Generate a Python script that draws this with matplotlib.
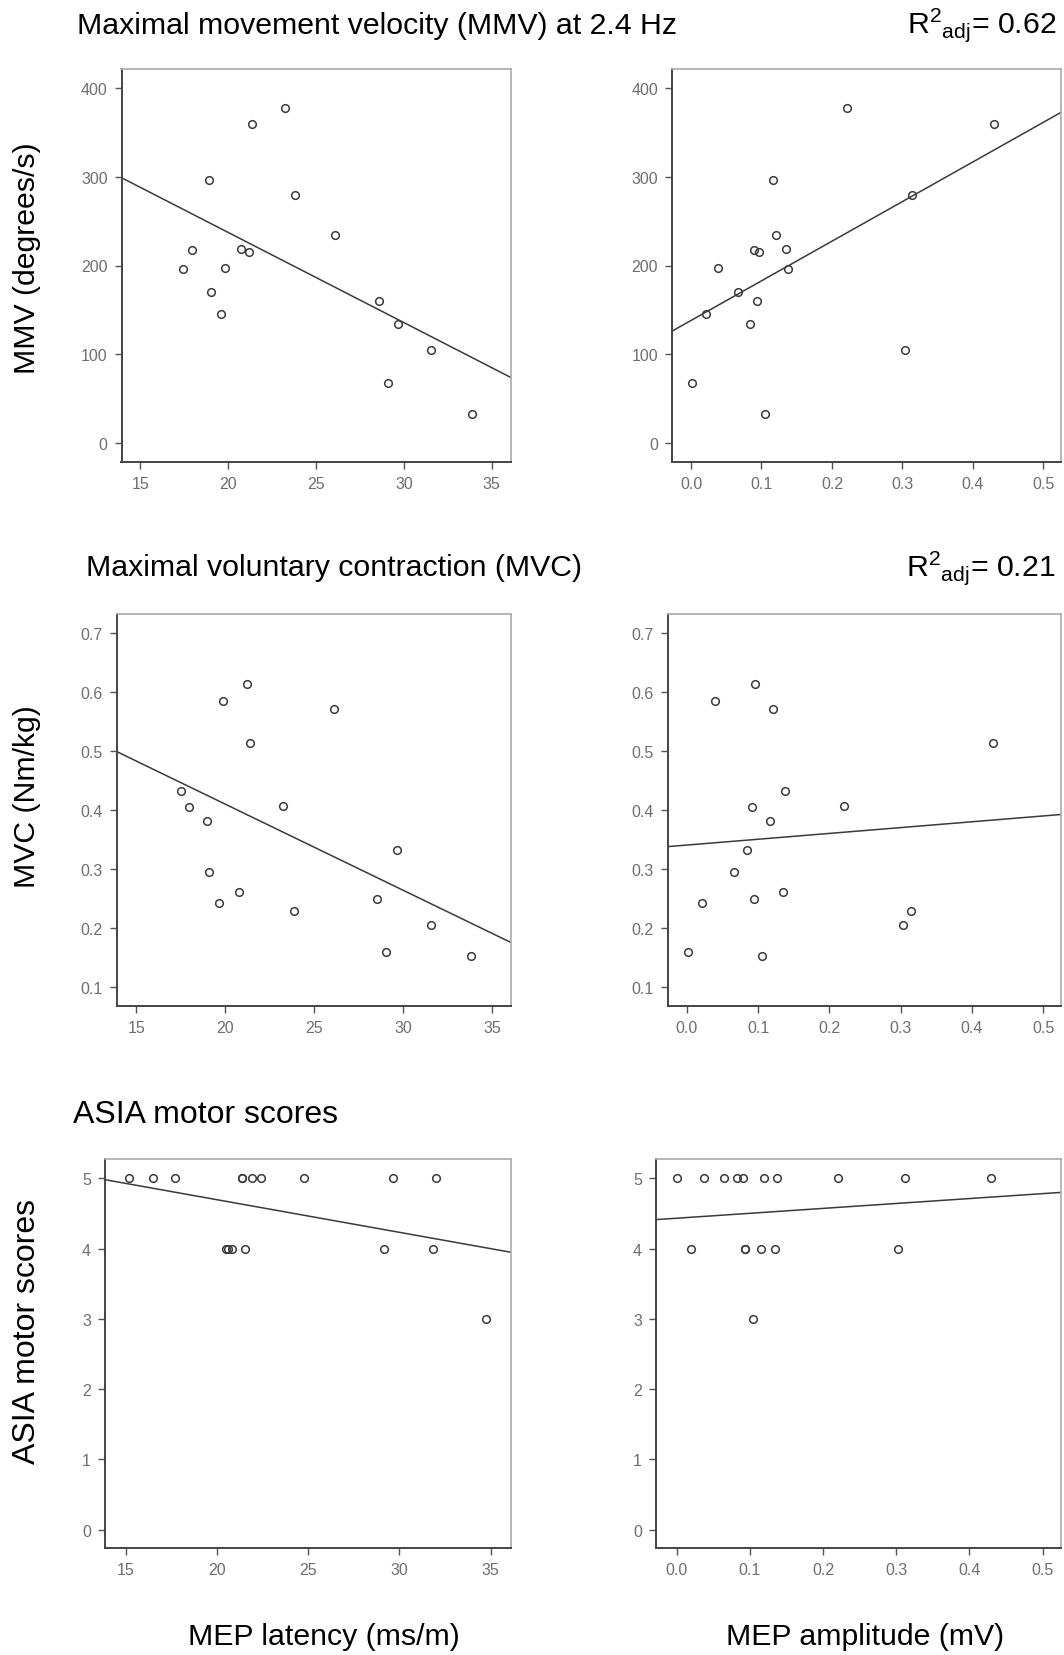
import numpy as np
import matplotlib
matplotlib.use("Agg")
import matplotlib.pyplot as plt

plt.rcParams['font.family'] = ['Liberation Sans', 'DejaVu Sans']
plt.rcParams['mathtext.fontset'] = 'custom'
plt.rcParams['mathtext.rm'] = 'Liberation Sans'
plt.rcParams['mathtext.it'] = 'Liberation Sans'

# MEP latency (ms/m) / MEP amplitude (mV) vs outcome
lat_mmv = [17.42, 17.95, 18.91, 19.03, 19.57, 19.83, 20.74, 21.18, 21.36, 23.22,
           23.82, 26.10, 28.59, 29.67, 29.07, 31.57, 33.86]
mmv_lat = [196, 217, 297, 170, 145, 197, 219, 215, 360, 378,
           280, 235, 160, 134, 67, 105, 32]
amp_mmv = [0.002, 0.021, 0.038, 0.066, 0.084, 0.090, 0.096, 0.094, 0.105, 0.116,
           0.120, 0.135, 0.138, 0.221, 0.303, 0.314, 0.430]
mmv_amp = [67, 145, 197, 170, 134, 217, 215, 160, 32, 297,
           235, 219, 196, 378, 105, 280, 360]

lat_mvc = [17.50, 17.99, 18.96, 19.08, 19.65, 19.86, 20.79, 21.21, 21.40, 23.23,
           23.86, 26.14, 28.56, 29.06, 29.67, 31.57, 33.82]
mvc_lat = [0.432, 0.405, 0.381, 0.296, 0.242, 0.585, 0.262, 0.615, 0.514, 0.407,
           0.229, 0.571, 0.249, 0.160, 0.332, 0.206, 0.152]
amp_mvc = [0.002, 0.021, 0.039, 0.066, 0.084, 0.092, 0.094, 0.096, 0.105, 0.117,
           0.121, 0.135, 0.138, 0.220, 0.303, 0.314, 0.429]
mvc_amp = [0.160, 0.242, 0.585, 0.296, 0.332, 0.405, 0.249, 0.615, 0.152, 0.381,
           0.571, 0.262, 0.432, 0.407, 0.206, 0.229, 0.514]

lat_asia = [15.19, 16.49, 17.70, 21.36, 21.36, 21.91, 22.38, 24.76, 29.67, 32.01,
            20.47, 20.61, 20.80, 21.52, 29.15, 31.84, 34.76]
asia_lat = [5, 5, 5, 5, 5, 5, 5, 5, 5, 5, 4, 4, 4, 4, 4, 4, 3]
amp_asia = [0.001, 0.038, 0.065, 0.082, 0.091, 0.120, 0.137, 0.220, 0.312, 0.429,
            0.020, 0.094, 0.094, 0.116, 0.134, 0.302, 0.104]
asia_amp = [5, 5, 5, 5, 5, 5, 5, 5, 5, 5, 4, 4, 4, 4, 4, 4, 3]

# fitted lines (intercept, slope) as drawn in the figure
fit_mmv = [(440.9, -10.18), (137.9, 447.8)]
fit_mvc = [(0.7027, -0.01461), (0.341, 0.0988)]
fit_asia = [(5.623, -0.04638), (4.432, 0.7005)]

lat_lim = (13.92, 36.1)
amp_lim = (-0.027, 0.525)
lat_ticks = [15, 20, 25, 30, 35]
amp_ticks = [0.0, 0.1, 0.2, 0.3, 0.4, 0.5]

W, H = 1064, 1656
fig = plt.figure(figsize=(W / 100, H / 100), dpi=100)


def box(l, r, t, b):
    return [l / W, 1 - b / H, (r - l) / W, (b - t) / H]


def panel(rect, x, y, fit, xlim, ylim, xticks, xlabels, yticks, ylabels):
    ax = fig.add_axes(rect)
    ax.plot(x, y, 'o', ms=5.5, mfc='none', mec='#3a3a3a', mew=1.1)
    xx = np.array(xlim)
    ax.plot(xx, fit[0] + fit[1] * xx, color='#3a3a3a', lw=1.1)
    ax.set_xlim(xlim)
    ax.set_ylim(ylim)
    ax.set_xticks(xticks)
    ax.set_xticklabels(xlabels)
    ax.set_yticks(yticks)
    ax.set_yticklabels(ylabels)
    ax.tick_params(direction='out', length=5, width=1, color='#555555',
                   labelcolor='#6e6e6e', labelsize=11.5, pad=5)
    for s in ['left', 'bottom']:
        ax.spines[s].set_color('#444444')
        ax.spines[s].set_linewidth(1.4)
    for s in ['top', 'right']:
        ax.spines[s].set_color('#aaaaaa')
        ax.spines[s].set_linewidth(1.2)
    return ax


mmv_ticks = [0, 100, 200, 300, 400]
mvc_ticks = [0.1, 0.2, 0.3, 0.4, 0.5, 0.6, 0.7]
asia_ticks = [0, 1, 2, 3, 4, 5]
lat_lab = [str(t) for t in lat_ticks]
amp_lab = ['%.1f' % t for t in amp_ticks]

panel(box(121.5, 511, 70, 463), lat_mmv, mmv_lat, fit_mmv[0], lat_lim, (-22, 422),
      lat_ticks, lat_lab, mmv_ticks, [str(t) for t in mmv_ticks])
panel(box(672, 1061, 70, 463), amp_mmv, mmv_amp, fit_mmv[1], amp_lim, (-22, 422),
      amp_ticks, amp_lab, mmv_ticks, [str(t) for t in mmv_ticks])
panel(box(116.5, 511, 615, 1007), lat_mvc, mvc_lat, fit_mvc[0], (13.89, 36.07), (0.068, 0.733),
      lat_ticks, lat_lab, mvc_ticks, ['%.1f' % t for t in mvc_ticks])
panel(box(667.5, 1061, 615, 1007), amp_mvc, mvc_amp, fit_mvc[1], amp_lim, (0.068, 0.733),
      amp_ticks, amp_lab, mvc_ticks, ['%.1f' % t for t in mvc_ticks])
panel(box(105, 511, 1160, 1549), lat_asia, asia_lat, fit_asia[0], (13.85, 36.12), (-0.26, 5.275),
      lat_ticks, lat_lab, asia_ticks, [str(t) for t in asia_ticks])
panel(box(656, 1061, 1160, 1549), amp_asia, asia_amp, fit_asia[1], (-0.028, 0.525), (-0.26, 5.275),
      amp_ticks, amp_lab, asia_ticks, [str(t) for t in asia_ticks])

# titles and labels
fs = 21.8
fig.text(77 / W, 1 - 33.5 / H, 'Maximal movement velocity (MMV) at 2.4 Hz', fontsize=fs, va='baseline')
fig.text(1056 / W, 1 - 33.5 / H, r'R$^{2}$$_{\rm adj}$= 0.62', fontsize=fs, va='baseline', ha='right')
fig.text(86 / W, 1 - 576 / H, 'Maximal voluntary contraction (MVC)', fontsize=fs, va='baseline')
fig.text(1055 / W, 1 - 576 / H, r'R$^{2}$$_{\rm adj}$= 0.21', fontsize=fs, va='baseline', ha='right')
fig.text(73 / W, 1 - 1123 / H, 'ASIA motor scores', fontsize=23, va='baseline')

fig.text(27 / W, 1 - 258 / H, 'MMV (degrees/s)', fontsize=fs, rotation=90, va='center', ha='center')
fig.text(27 / W, 1 - 797 / H, 'MVC (Nm/kg)', fontsize=fs, rotation=90, va='center', ha='center')
fig.text(27 / W, 1 - 1332 / H, 'ASIA motor scores', fontsize=23, rotation=90, va='center', ha='center')
fig.text(324 / W, 1 - 1645 / H, 'MEP latency (ms/m)', fontsize=fs, va='baseline', ha='center')
fig.text(865 / W, 1 - 1645 / H, 'MEP amplitude (mV)', fontsize=fs, va='baseline', ha='center')

fig.savefig('out.png', dpi=100)
